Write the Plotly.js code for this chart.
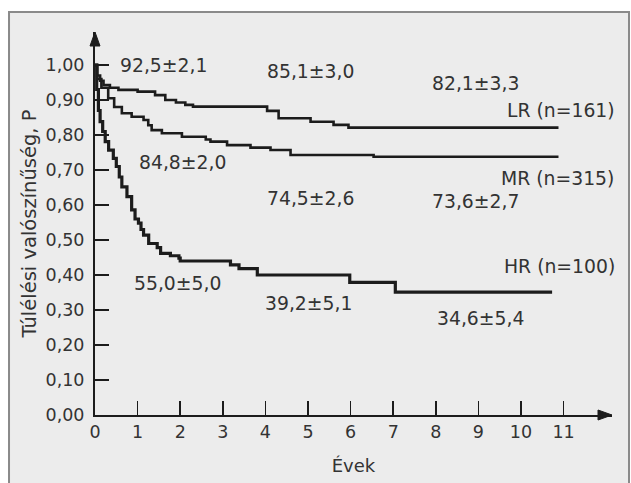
<!DOCTYPE html>
<html>
<head>
<meta charset="utf-8">
<script src="https://cdn.plot.ly/plotly-3.0.1.min.js"></script>
<style>html,body{margin:0;padding:0;background:#fff;}#chart{width:631px;height:483px;}</style>
</head>
<body>
<div id="chart"></div>
<script>
// Kaplan-Meier survival estimates (years, probability)
const lrYears = [0, 0.05, 0.12, 0.2, 0.35, 0.55, 1.0, 1.41, 1.65, 1.9, 2.12, 2.3, 4.04, 4.31, 5.06, 5.6, 5.95, 10.88];
const lrSurv  = [1.0, 0.97, 0.955, 0.943, 0.935, 0.929, 0.924, 0.914, 0.90, 0.893, 0.886, 0.881, 0.869, 0.848, 0.838, 0.829, 0.821, 0.821];

const mrYears = [0, 0.05, 0.15, 0.31, 0.45, 0.63, 0.86, 1.14, 1.25, 1.33, 1.57, 2.04, 2.6, 2.71, 3.1, 3.65, 4.12, 4.59, 6.54, 10.88];
const mrSurv  = [1.0, 0.96, 0.935, 0.905, 0.88, 0.862, 0.852, 0.843, 0.828, 0.814, 0.805, 0.795, 0.787, 0.781, 0.771, 0.764, 0.757, 0.743, 0.738, 0.738];

const hrYears = [0, 0.04, 0.08, 0.12, 0.18, 0.24, 0.32, 0.43, 0.5, 0.57, 0.63, 0.75, 0.86, 0.94, 1.02, 1.08, 1.14, 1.26, 1.46, 1.54, 1.77, 1.97, 2.0, 3.18, 3.38, 3.81, 5.98, 7.05, 10.73];
const hrSurv  = [1.0, 0.93, 0.87, 0.838, 0.81, 0.781, 0.757, 0.733, 0.71, 0.68, 0.652, 0.624, 0.586, 0.56, 0.548, 0.53, 0.514, 0.49, 0.478, 0.462, 0.455, 0.448, 0.44, 0.429, 0.418, 0.40, 0.379, 0.351, 0.351];

const xTickVals = [0,1,2,3,4,5,6,7,8,9,10,11];
const yTickVals = [0,0.1,0.2,0.3,0.4,0.5,0.6,0.7,0.8,0.9,1.0];
const yTickText = ['0,00','0,10','0,20','0,30','0,40','0,50','0,60','0,70','0,80','0,90','1,00'];

// Text labels on the chart and their positions (years, probability)
const labelText = ['92,5±2,1','85,1±3,0','82,1±3,3','LR (n=161)','84,8±2,0','MR (n=315)','74,5±2,6','73,6±2,7','HR (n=100)','55,0±5,0','39,2±5,1','34,6±5,4'];
const labelX    = [1.61, 5.06, 8.94, 10.95, 2.05, 10.86, 5.06, 8.94, 10.9, 1.93, 5.02, 9.05];
const labelY    = [1.0, 0.981, 0.948, 0.871, 0.721, 0.676, 0.619, 0.609, 0.424, 0.376, 0.319, 0.276];

const FONT = 'DejaVu Sans, sans-serif';
const TXT = '#333333';
const LINE = '#1c1c1c';

function trace(x, y, w){
  return {x:x, y:y, type:'scatter', mode:'lines', line:{shape:'hv', color:LINE, width:w}, hoverinfo:'skip', showlegend:false};
}

const data = [trace(lrYears, lrSurv, 2.6), trace(mrYears, mrSurv, 2.6), trace(hrYears, hrSurv, 3.2)];

const annotations = labelText.map((t,i)=>({
  x:labelX[i], y:labelY[i], xref:'x', yref:'y', text:t, showarrow:false,
  font:{family:FONT, size:18.8, color:TXT}, xanchor:'center', yanchor:'middle'
}));

const layout = {
  width:631, height:483,
  margin:{l:95, r:19, t:32, b:68, pad:0},
  paper_bgcolor:'#ffffff',
  plot_bgcolor:'rgba(0,0,0,0)',
  font:{family:FONT, color:TXT, size:18},
  showlegend:false,
  xaxis:{
    range:[0, 12.136], autorange:false, showgrid:false, zeroline:false,
    showline:true, linecolor:LINE, linewidth:2,
    ticks:'inside', ticklen:14, tickwidth:1.5, tickcolor:LINE,
    tickvals:xTickVals, ticktext:xTickVals.map(String),
    tickfont:{family:FONT, size:17.5, color:TXT},
    title:{text:'Évek', font:{family:FONT, size:18, color:TXT}, standoff:18},
    fixedrange:true
  },
  yaxis:{
    range:[0, 1.0943], autorange:false, showgrid:false, zeroline:false,
    showline:true, linecolor:LINE, linewidth:2,
    ticks:'inside', ticklen:14, tickwidth:1.5, tickcolor:LINE,
    tickvals:yTickVals, ticktext:yTickText, ticklabelstandoff:5,
    tickfont:{family:FONT, size:17.5, color:TXT},
    title:{text:'Túlélési valószínűség, P', font:{family:FONT, size:19.5, color:TXT}, standoff:4},
    fixedrange:true
  },
  annotations: annotations,
  shapes:[
    {type:'rect', xref:'paper', yref:'paper', x0:-0.1663, x1:1.0329, y0:-0.19, y1:1.0522,
     fillcolor:'#ececec', line:{color:'#8a8a8a', width:2}, layer:'below'},
    {type:'path', xref:'paper', yref:'paper', xsizemode:'pixel', ysizemode:'pixel', xanchor:0, yanchor:1,
     path:'M -5 -14 L 0 0 L 5 -14 Z', fillcolor:LINE, line:{color:LINE, width:1}},
    {type:'path', xref:'paper', yref:'paper', xsizemode:'pixel', ysizemode:'pixel', xanchor:1, yanchor:0,
     path:'M -14 -5 L 0 0 L -14 5 Z', fillcolor:LINE, line:{color:LINE, width:1}}
  ]
};

Plotly.newPlot('chart', data, layout, {displayModeBar:false, staticPlot:true});
</script>
</body>
</html>
